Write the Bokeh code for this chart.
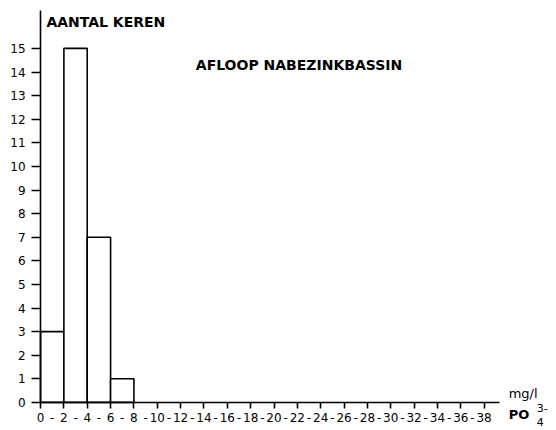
from bokeh.plotting import figure
from bokeh.models import Range1d, Label, ColumnDataSource, FixedTicker
from bokeh.embed import file_html
from bokeh.resources import INLINE

# data
bin_left = [0, 2, 4, 6]
bin_right = [2, 4, 6, 8]
counts = [3, 15, 7, 1]
x_ticks = list(range(0, 40, 2))          # labelled class limits (mg/l)
y_ticks = list(range(0, 16))
y_title = "AANTAL   KEREN"
chart_title = "AFLOOP   NABEZINKBASSIN"
unit_top = "mg/l"
unit_bottom = "PO"
unit_sup = "3-"
unit_sub = "4"

FONT = "DejaVu Sans"

p = figure(width=556, height=430, output_backend="svg", toolbar_location=None,
           x_range=Range1d(-3.43, 44.2), y_range=Range1d(-1.19, 17.03),
           min_border_left=0, min_border_right=0, min_border_top=0, min_border_bottom=0)
p.outline_line_color = None
p.xgrid.visible = False
p.ygrid.visible = False

src = ColumnDataSource(dict(left=bin_left, right=bin_right, top=counts, bottom=[0]*len(counts)))
p.quad(left="left", right="right", top="top", bottom="bottom", source=src,
       fill_color="white", line_color="black", line_width=1.6)

for ax in (p.xaxis[0], p.yaxis[0]):
    ax.axis_line_color = "black"
    ax.axis_line_width = 1.6
    ax.major_tick_line_color = "black"
    ax.major_tick_line_width = 1.6
    ax.minor_tick_line_color = None
    ax.major_tick_in = 0
    ax.major_label_text_font = FONT
    ax.major_label_text_color = "black"

# x axis: labels at every integer ("-" between the class limits), tick marks only at limits
all_pos = list(range(x_ticks[0], x_ticks[-1] + 1))
xa = p.xaxis[0]
xa.fixed_location = 0
xa.ticker = FixedTicker(ticks=all_pos, minor_ticks=x_ticks)
xa.major_label_overrides = {k: (str(k) if k in x_ticks else "-") for k in all_pos}
xa.bounds = (0, 39.3)
xa.major_tick_line_color = None
xa.major_tick_out = 6
xa.minor_tick_line_color = "black"
xa.minor_tick_line_width = 1.6
xa.minor_tick_out = 6
xa.minor_tick_in = 0
xa.major_label_standoff = 5
xa.major_label_text_font_size = "12px"

ya = p.yaxis[0]
ya.fixed_location = 0
ya.ticker = FixedTicker(ticks=y_ticks)
ya.bounds = (0, 16.6)
ya.major_tick_out = 9
ya.major_label_standoff = 6
ya.major_label_text_font_size = "12px"

p.add_layout(Label(x=0.5, y=16.14, text=y_title, text_font=FONT, text_font_size="14px",
                   text_font_style="bold", text_baseline="middle", text_color="black"))
p.add_layout(Label(x=13.3, y=14.3, text=chart_title, text_font=FONT, text_font_size="14px",
                   text_font_style="bold", text_baseline="middle", text_color="black"))

p.add_layout(Label(x=40.1, y=0.36, text=unit_top, text_font=FONT, text_font_size="13px",
                   text_baseline="middle", text_color="black"))
p.add_layout(Label(x=40.1, y=-0.5, text=unit_bottom, text_font=FONT, text_font_size="13px",
                   text_font_style="bold", text_baseline="middle", text_color="black"))
p.add_layout(Label(x=42.5, y=-0.22, text=unit_sup, text_font=FONT, text_font_size="11px",
                   text_baseline="middle", text_color="black"))
p.add_layout(Label(x=42.5, y=-0.82, text=unit_sub, text_font=FONT, text_font_size="11px",
                   text_baseline="middle", text_color="black"))

open("out.html", "w").write(file_html(p, INLINE))
